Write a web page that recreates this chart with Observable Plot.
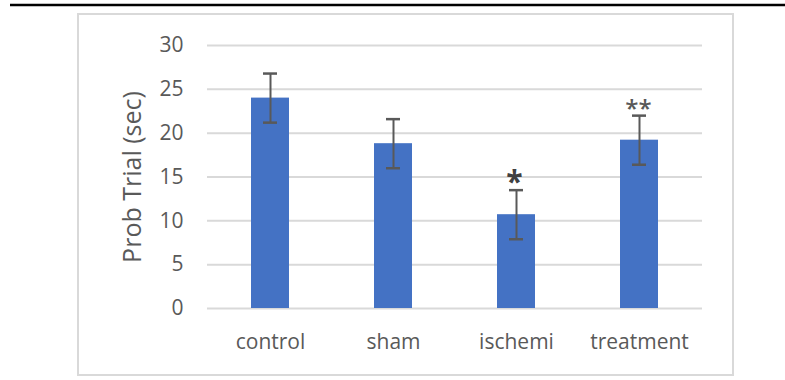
<!DOCTYPE html>
<html>
<head>
<meta charset="utf-8">
<script src="https://cdn.jsdelivr.net/npm/d3@7"></script>
<script src="https://cdn.jsdelivr.net/npm/@observablehq/plot@0.6"></script>
<style>
  html, body { margin: 0; padding: 0; background: #fff; }
  #chart svg { display: block; }
</style>
</head>
<body>
<div id="chart"></div>
<script>
// Probe trial time per group (mean ± error), with significance marks
const categories = ["control", "sham", "ischemi", "treatment"];
const means = [24, 18.8, 10.7, 19.2];
const errors = [2.8, 2.8, 2.8, 2.8];
const significance = ["", "", "*", "**"];
const yTicks = [0, 5, 10, 15, 20, 25, 30];
const yLabel = "Prob Trial (sec)";

const rows = categories.map((group, i) => ({
  group,
  mean: means[i],
  lo: means[i] - errors[i],
  hi: means[i] + errors[i],
  sig: significance[i]
}));

const textColor = "#595959";
const font = "'Open Sans', 'Noto Sans', sans-serif";

const chart = Plot.plot({
  width: 785,
  height: 380,
  marginLeft: 207,
  marginRight: 83,
  marginTop: 45,
  marginBottom: 72,
  style: { fontFamily: font, background: "#fff", color: textColor },
  x: { domain: categories, paddingInner: 0.69, paddingOuter: 0.345, label: null },
  y: { domain: [0, 30], label: null },
  marks: [
    Plot.gridY(yTicks, { stroke: "#d9d9d9", strokeOpacity: 1, strokeWidth: 2 }),
    Plot.barY(rows, { x: "group", y: "mean", fill: "#4472C4" }),
    Plot.ruleX(rows, { x: "group", y1: "lo", y2: "hi", stroke: "#595959", strokeWidth: 2 }),
    Plot.tickY(rows, { x: "group", y: "lo", stroke: "#595959", strokeWidth: 2.5, insetLeft: 12, insetRight: 12 }),
    Plot.tickY(rows, { x: "group", y: "hi", stroke: "#595959", strokeWidth: 2.5, insetLeft: 12, insetRight: 12 }),
    Plot.text(rows.filter(d => d.sig === "*"), {
      x: "group", y: "hi", text: "sig", dy: -8, dx: -2,
      fontSize: 30, fontWeight: "bold", fill: "#404040", lineAnchor: "middle"
    }),
    Plot.text(rows.filter(d => d.sig === "**"), {
      x: "group", y: "hi", text: "sig", dy: -6, dx: -1,
      fontSize: 24, fontWeight: 600, fill: "#595959", lineAnchor: "middle"
    }),
    Plot.axisY(yTicks, {
      tickSize: 0, tickPadding: 24, fontSize: 21, fill: textColor, label: null
    }),
    Plot.axisX({
      tickSize: 0, tickPadding: 26, fontSize: 21, fill: textColor, label: null
    }),
    Plot.text([yLabel], {
      frameAnchor: "left", textAnchor: "middle", rotate: -90, dx: -75,
      fontSize: 25, fill: textColor
    })
  ]
});

// Chart area outline and the rule across the top of the page
const svg = d3.select(chart);
svg.insert("rect", ":first-child")
  .attr("x", 78).attr("y", 14).attr("width", 655).attr("height", 361)
  .attr("fill", "none").attr("stroke", "#d9d9d9").attr("stroke-width", 2);
svg.append("line")
  .attr("x1", 10).attr("x2", 785).attr("y1", 5).attr("y2", 5)
  .attr("stroke", "#000").attr("stroke-width", 2.5);

document.getElementById("chart").appendChild(chart);
</script>
</body>
</html>
